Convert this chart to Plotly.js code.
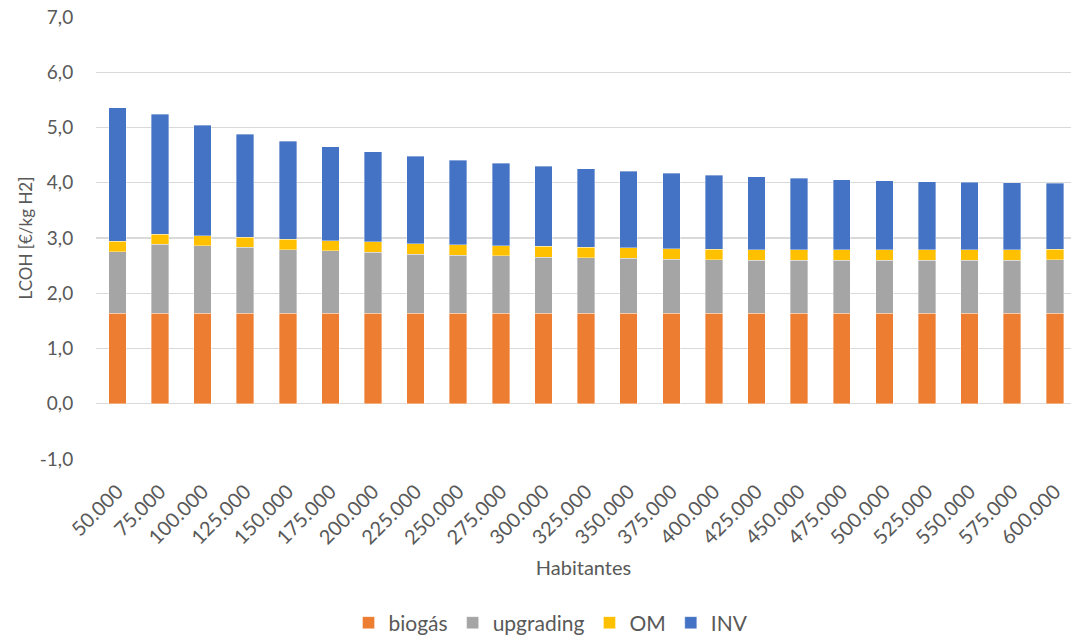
<!DOCTYPE html>
<html>
<head>
<meta charset="utf-8">
<script src="https://cdn.plot.ly/plotly-3.0.1.min.js"></script>
<style>
  html, body { margin: 0; padding: 0; background: #ffffff; }
  #chart { width: 1071px; height: 637px; }
</style>
</head>
<body>
<div id="chart"></div>
<script>
// Population sizes (category labels on the x axis)
const habitantes = ["50.000", "75.000", "100.000", "125.000", "150.000", "175.000",
  "200.000", "225.000", "250.000", "275.000", "300.000", "325.000", "350.000",
  "375.000", "400.000", "425.000", "450.000", "475.000", "500.000", "525.000",
  "550.000", "575.000", "600.000"];

// LCOH components in €/kg H2
const biogas = [1.64, 1.64, 1.64, 1.64, 1.64, 1.64, 1.64, 1.64, 1.64, 1.64, 1.64, 1.64,
  1.64, 1.64, 1.64, 1.64, 1.64, 1.64, 1.64, 1.64, 1.64, 1.64, 1.64];
const upgrading = [1.11, 1.25, 1.22, 1.19, 1.15, 1.13, 1.10, 1.07, 1.05, 1.04, 1.01, 1.00,
  0.99, 0.98, 0.97, 0.96, 0.96, 0.96, 0.96, 0.96, 0.96, 0.96, 0.97];
const om = [0.19, 0.18, 0.18, 0.18, 0.19, 0.18, 0.19, 0.19, 0.19, 0.18, 0.20, 0.19,
  0.19, 0.19, 0.19, 0.19, 0.19, 0.19, 0.19, 0.19, 0.19, 0.19, 0.19];
const inv = [2.42, 2.17, 2.00, 1.87, 1.77, 1.70, 1.63, 1.58, 1.53, 1.49, 1.45, 1.42,
  1.39, 1.36, 1.34, 1.32, 1.29, 1.26, 1.25, 1.23, 1.22, 1.21, 1.19];

// Y axis ticks, written with a decimal comma and a plain hyphen for negatives
const yTicks = [-1, 0, 1, 2, 3, 4, 5, 6, 7];
const yTickText = yTicks.map(v => v.toFixed(1).replace(".", ","));

const FONT = "Lato, 'Open Sans', sans-serif";
const TEXT = "#595959";

function series(name, values, color) {
  return {
    type: "bar",
    name: name,
    x: habitantes,
    y: values,
    marker: { color: color, line: { color: "rgba(255,255,255,0.6)", width: 0.6 } },
    hoverinfo: "x+y+name"
  };
}

const data = [
  series("biogás", biogas, "#ED7D31"),
  series("upgrading", upgrading, "#A5A5A5"),
  series("OM", om, "#FFC000"),
  series("INV", inv, "#4472C4")
];

const layout = {
  width: 1071,
  height: 637,
  barmode: "stack",
  bargap: 0.59,
  paper_bgcolor: "#ffffff",
  plot_bgcolor: "#ffffff",
  font: { family: FONT, color: TEXT, size: 19 },
  margin: { l: 96, r: 0, t: 17, b: 178 },
  xaxis: {
    type: "category",
    range: [-0.5, 22.38],
    tickangle: -45,
    showgrid: false,
    showline: false,
    zeroline: false,
    ticks: "outside",
    ticklen: 12,
    tickcolor: "rgba(0,0,0,0)",
    tickfont: { family: FONT, size: 20, color: TEXT },
    title: { text: "Habitantes", font: { family: FONT, size: 20, color: TEXT }, standoff: 13 },
    automargin: false
  },
  yaxis: {
    range: [-1, 7],
    tickvals: yTicks,
    ticktext: yTickText,
    showgrid: true,
    gridcolor: "#d9d9d9",
    gridwidth: 1.3,
    zeroline: false,
    showline: false,
    ticks: "outside",
    ticklen: 18,
    tickcolor: "rgba(0,0,0,0)",
    tickfont: { family: FONT, size: 19, color: TEXT },
    title: { text: "LCOH [€/kg H2]", font: { family: FONT, size: 17, color: TEXT }, standoff: 2 },
    automargin: false
  },
  showlegend: true,
  legend: {
    orientation: "h",
    xref: "container",
    yref: "container",
    x: 0.5145,
    xanchor: "center",
    y: 0.022,
    yanchor: "middle",
    font: { family: FONT, size: 21, color: TEXT },
    traceorder: "normal",
    itemwidth: 30
  }
};

Plotly.newPlot("chart", data, layout, { displayModeBar: false, staticPlot: true });
</script>
</body>
</html>
